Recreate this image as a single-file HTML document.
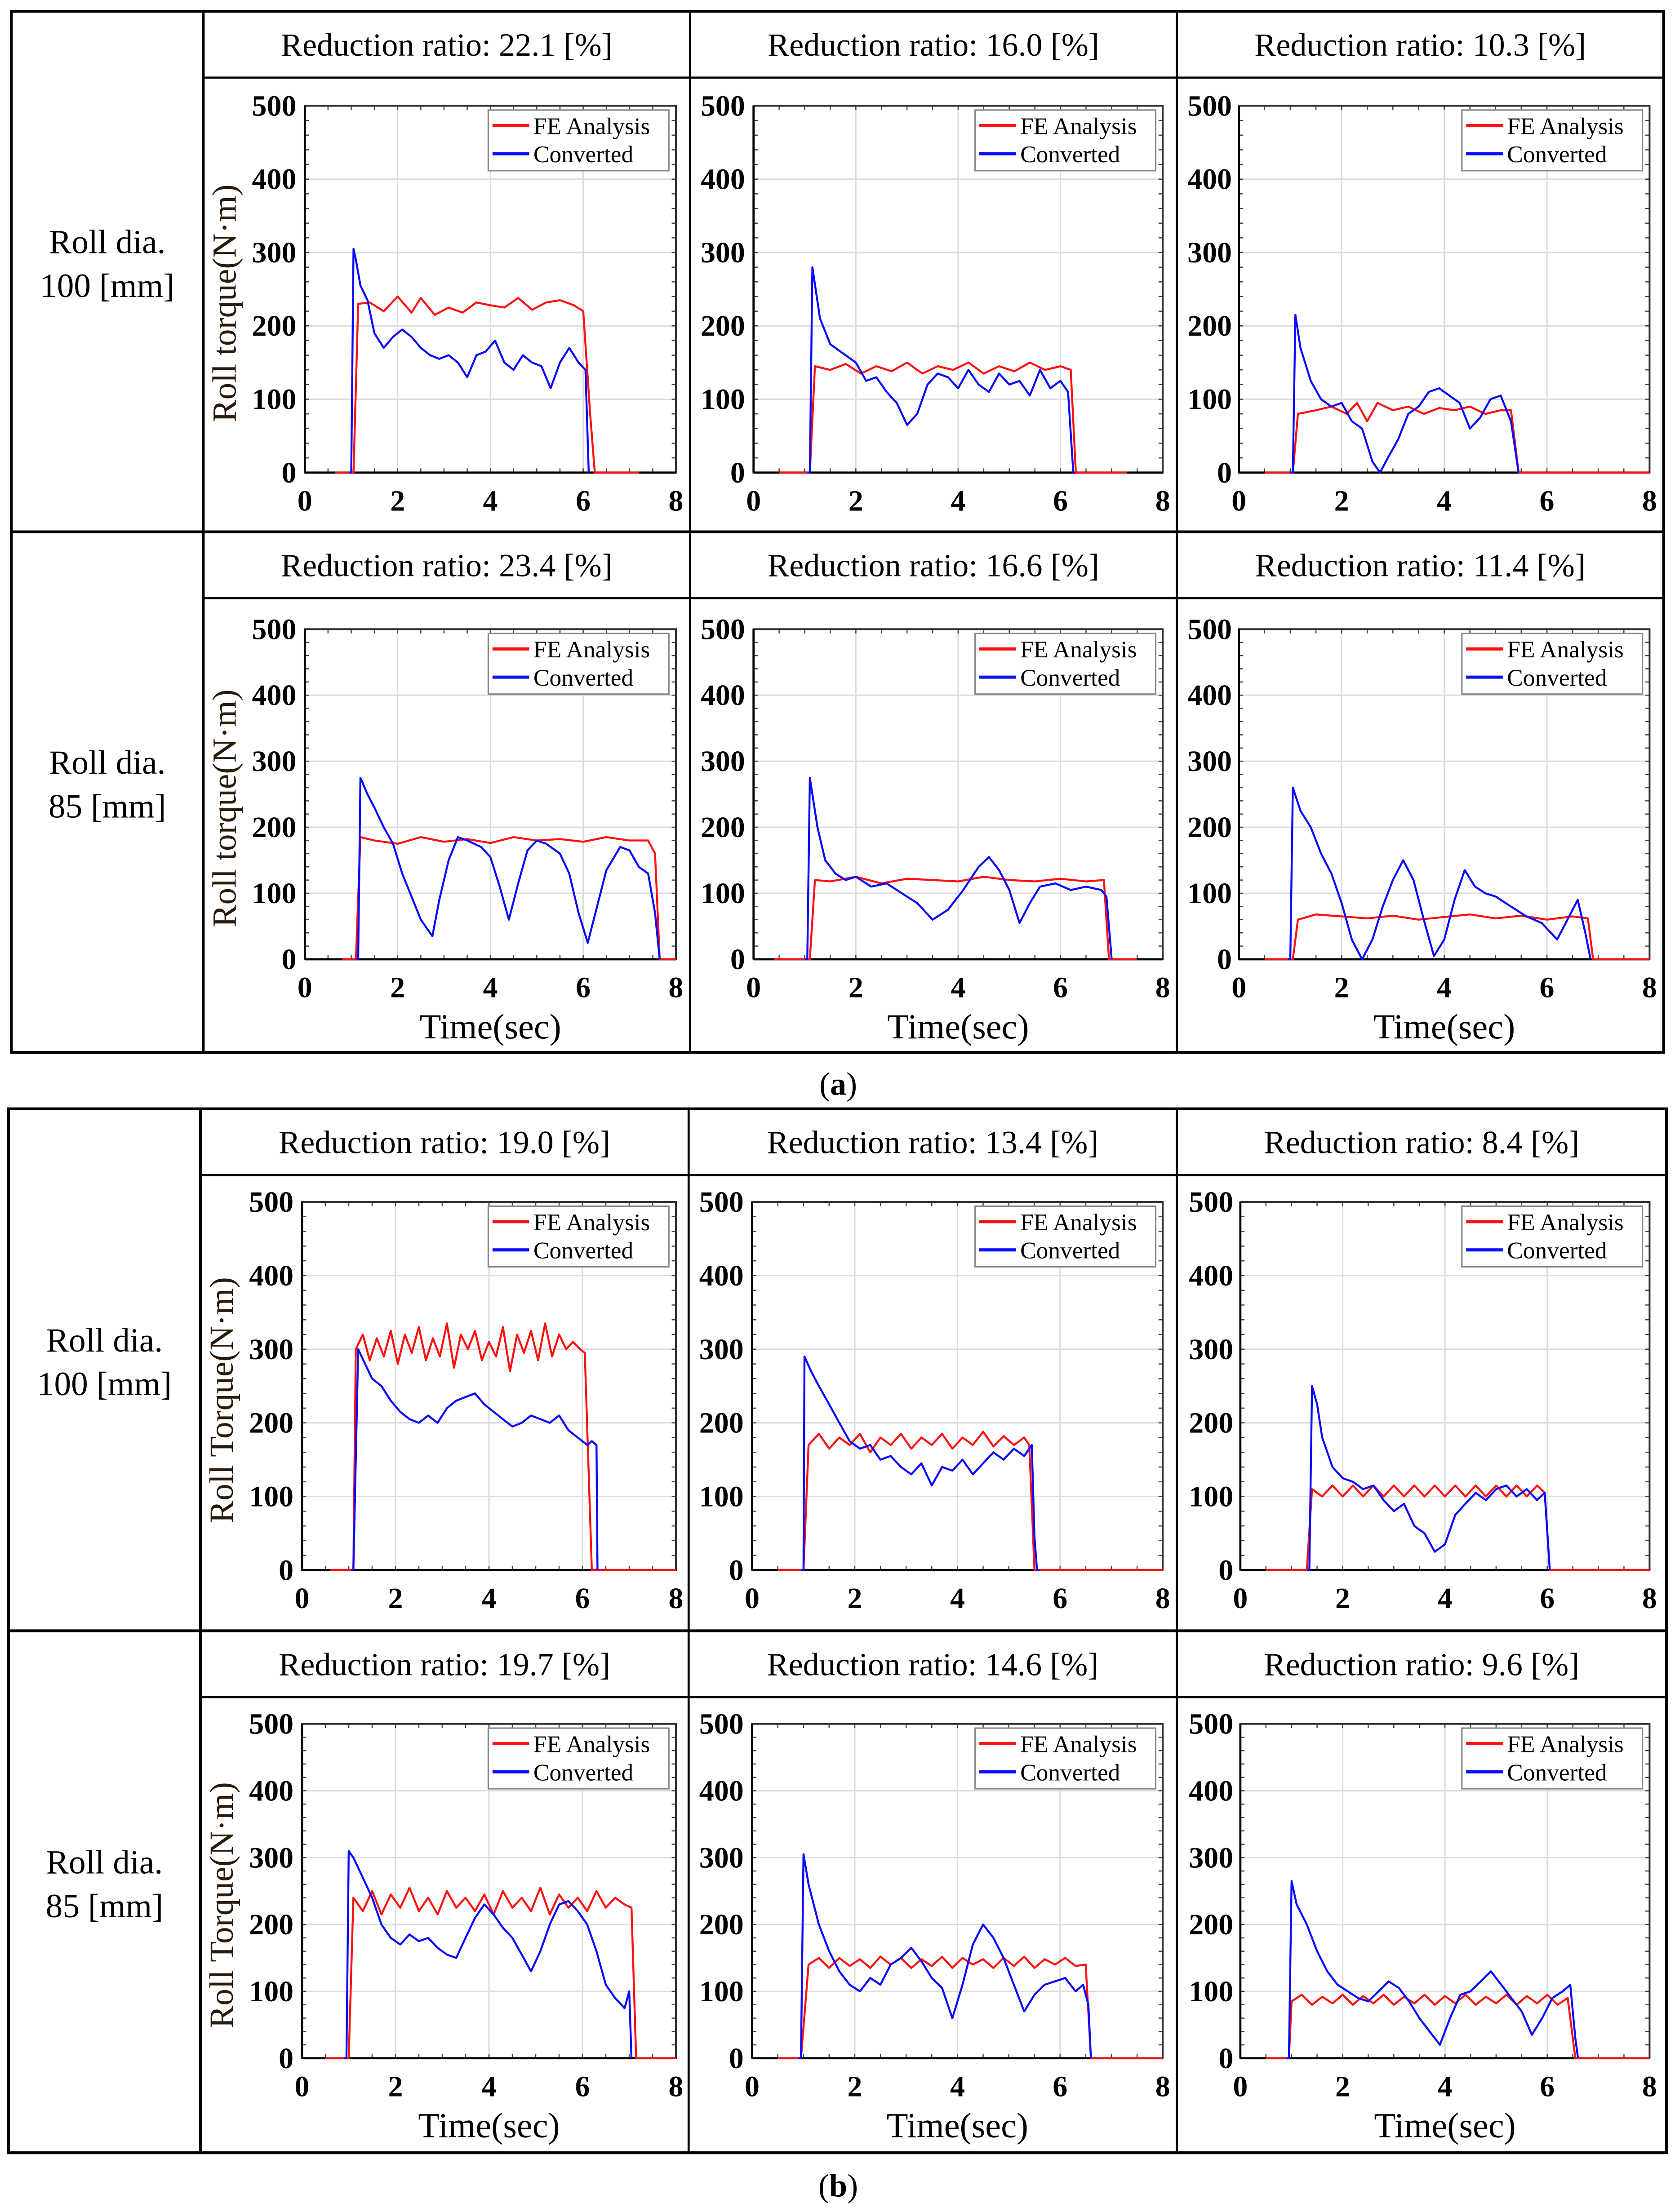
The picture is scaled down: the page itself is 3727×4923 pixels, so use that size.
<!DOCTYPE html>
<html><head><meta charset="utf-8"><style>
html,body{margin:0;padding:0;background:#fff}
svg{display:block;font-family:"Liberation Serif",serif}
text{font-family:"Liberation Serif",serif}
</style></head><body>
<svg id="fig" width="3727" height="4923" viewBox="0 0 1185 1568" font-family="Liberation Serif, serif" xmlns="http://www.w3.org/2000/svg"></svg>
<script>
// ---- data (time in s, torque in N·m) ----
const xTicks=[0,2,4,6,8];
const yTicks=[0,100,200,300,400,500];
const headers=["Reduction ratio: 22.1 [%]","Reduction ratio: 16.0 [%]","Reduction ratio: 10.3 [%]","Reduction ratio: 23.4 [%]","Reduction ratio: 16.6 [%]","Reduction ratio: 11.4 [%]","Reduction ratio: 19.0 [%]","Reduction ratio: 13.4 [%]","Reduction ratio: 8.4 [%]","Reduction ratio: 19.7 [%]","Reduction ratio: 14.6 [%]","Reduction ratio: 9.6 [%]"];
const rowLabels=[["Roll dia.","100 [mm]"],["Roll dia.","85 [mm]"],["Roll dia.","100 [mm]"],["Roll dia.","85 [mm]"]];

const a1FeT=[0.65,0.9,1.05,1.15,1.4,1.7,2,2.3,2.5,2.8,3.1,3.4,3.7,4,4.3,4.6,4.9,5.2,5.5,5.8,6.0,6.15,6.25,7.2];
const a1FeV=[0,0,0,230,232,220,240,218,238,215,225,218,232,228,225,238,222,232,235,228,220,80,0,0];
const a1CvT=[0.95,1.0,1.05,1.1,1.2,1.35,1.5,1.7,1.9,2.1,2.3,2.5,2.7,2.9,3.1,3.3,3.5,3.7,3.9,4.1,4.3,4.5,4.7,4.9,5.1,5.3,5.5,5.7,5.9,6.05,6.12];
const a1CvV=[0,0,305,290,255,235,190,170,185,195,185,170,160,155,160,150,130,160,165,180,150,140,160,150,145,115,150,170,150,140,0];

const a2FeT=[0.5,1.05,1.1,1.2,1.5,1.8,2.1,2.4,2.7,3,3.3,3.6,3.9,4.2,4.5,4.8,5.1,5.4,5.7,6,6.2,6.3,7.3];
const a2FeV=[0,0,0,145,140,148,135,145,138,150,135,145,140,150,135,145,138,150,140,145,140,0,0];
const a2CvT=[1.05,1.1,1.15,1.3,1.5,1.7,2,2.2,2.4,2.6,2.8,3,3.2,3.4,3.6,3.8,4,4.2,4.4,4.6,4.8,5,5.2,5.4,5.6,5.8,6,6.15,6.25];
const a2CvV=[0,0,280,210,175,165,150,125,130,110,95,65,80,120,135,130,115,140,120,110,135,120,125,105,140,115,125,110,0];

const a3FeT=[0.5,0.95,1.05,1.15,1.5,1.8,2.1,2.3,2.5,2.7,3,3.3,3.6,3.9,4.2,4.5,4.8,5.1,5.3,5.45,8];
const a3FeV=[0,0,0,80,85,90,80,95,70,95,85,90,80,88,85,90,80,85,85,0,0];
const a3CvT=[1.0,1.05,1.1,1.2,1.4,1.6,1.8,2,2.2,2.4,2.6,2.75,2.9,3.1,3.3,3.5,3.7,3.9,4.1,4.3,4.5,4.7,4.9,5.1,5.3,5.45];
const a3CvV=[0,0,215,170,125,100,90,95,70,60,15,0,20,45,80,90,110,115,105,95,60,75,100,105,70,0];

const a4FeT=[0.8,1.0,1.1,1.2,1.5,2,2.5,3,3.5,4,4.5,5,5.5,6,6.5,7,7.4,7.55,7.65,8];
const a4FeV=[0,0,0,185,180,175,185,178,182,176,185,180,182,178,185,180,180,160,0,0];
const a4CvT=[1.1,1.15,1.2,1.35,1.5,1.7,1.9,2.1,2.3,2.5,2.75,2.9,3.1,3.3,3.5,3.8,4.0,4.2,4.4,4.6,4.8,5.0,5.2,5.5,5.7,5.9,6.1,6.3,6.5,6.8,7.0,7.2,7.4,7.55,7.65];
const a4CvV=[0,0,275,250,230,200,175,130,95,60,35,90,150,185,180,170,155,110,60,115,165,180,175,160,130,70,25,80,135,170,165,140,130,70,0];

const a5FeT=[0.4,0.95,1.1,1.2,1.5,2,2.5,3,3.5,4,4.5,5,5.5,6,6.5,6.85,6.95,7.5];
const a5FeV=[0,0,0,120,118,125,115,122,120,118,125,120,118,122,118,120,0,0];
const a5CvT=[1.0,1.05,1.1,1.25,1.4,1.6,1.8,2,2.3,2.6,2.9,3.2,3.5,3.8,4.1,4.4,4.6,4.8,5.0,5.2,5.4,5.6,5.9,6.2,6.5,6.8,6.9,7.0];
const a5CvV=[0,0,275,200,150,130,120,125,110,115,100,85,60,75,105,140,155,135,105,55,85,110,115,105,110,105,95,0];

const a6FeT=[0.5,0.9,1.05,1.15,1.5,2,2.5,3,3.5,4,4.5,5,5.5,6,6.5,6.8,6.9,8];
const a6FeV=[0,0,0,60,68,65,62,66,60,64,68,62,66,60,65,62,0,0];
const a6CvT=[0.95,1.0,1.05,1.2,1.4,1.6,1.8,2,2.2,2.4,2.6,2.8,3.0,3.2,3.4,3.6,3.8,4.0,4.2,4.4,4.6,4.8,5.0,5.3,5.6,5.9,6.2,6.4,6.6,6.75,6.85];
const a6CvV=[0,0,260,225,200,160,130,85,30,0,30,80,120,150,120,60,5,30,90,135,110,100,95,80,65,55,30,60,90,40,0];

const b1FeT=[0.6,1.0,1.1,1.15,1.3,1.45,1.6,1.75,1.9,2.05,2.2,2.35,2.5,2.65,2.8,2.95,3.1,3.25,3.4,3.55,3.7,3.85,4.0,4.15,4.3,4.45,4.6,4.75,4.9,5.05,5.2,5.35,5.5,5.65,5.8,5.95,6.05,6.2,8];
const b1FeV=[0,0,0,300,320,285,315,290,325,280,320,295,330,285,315,290,335,275,320,300,325,285,310,290,330,270,320,295,325,285,335,290,320,300,310,300,295,0,0];
const b1CvT=[1.05,1.1,1.2,1.35,1.5,1.7,1.9,2.1,2.3,2.5,2.7,2.9,3.1,3.3,3.5,3.7,3.9,4.1,4.3,4.5,4.7,4.9,5.1,5.3,5.5,5.7,5.9,6.1,6.2,6.3,6.32];
const b1CvV=[0,0,300,280,260,250,230,215,205,200,210,200,220,230,235,240,225,215,205,195,200,210,205,200,210,190,180,170,175,170,0];

const b2FeT=[0.5,0.9,1.0,1.1,1.3,1.5,1.7,1.9,2.1,2.3,2.5,2.7,2.9,3.1,3.3,3.5,3.7,3.9,4.1,4.3,4.5,4.7,4.9,5.1,5.3,5.4,5.5,8];
const b2FeV=[0,0,0,170,185,165,180,170,185,160,180,170,185,165,180,170,185,165,180,170,188,168,182,170,180,170,0,0];
const b2CvT=[0.95,1.0,1.02,1.15,1.3,1.5,1.7,1.9,2.1,2.3,2.5,2.7,2.9,3.1,3.3,3.5,3.7,3.9,4.1,4.3,4.5,4.7,4.9,5.1,5.3,5.45,5.5,5.55,5.6];
const b2CvV=[0,0,290,270,250,225,200,175,165,170,150,155,140,130,145,115,140,135,150,130,145,160,150,165,155,170,45,0,0];

const b3FeT=[0.5,1.2,1.3,1.4,1.6,1.8,2,2.2,2.4,2.6,2.8,3,3.2,3.4,3.6,3.8,4,4.2,4.4,4.6,4.8,5,5.2,5.4,5.6,5.8,5.95,6.05,8];
const b3FeV=[0,0,0,110,100,115,100,115,100,115,100,115,100,115,100,115,100,115,100,115,100,115,100,115,100,115,105,0,0];
const b3CvT=[1.3,1.35,1.4,1.5,1.6,1.8,2,2.2,2.4,2.6,2.8,3,3.2,3.4,3.6,3.8,4,4.2,4.4,4.6,4.8,5,5.2,5.4,5.6,5.8,5.95,6.05];
const b3CvV=[0,0,250,225,180,140,125,120,110,115,95,80,90,60,50,25,35,75,90,105,95,110,115,100,110,95,105,0];

const b4FeT=[0.5,0.95,1.0,1.1,1.3,1.5,1.7,1.9,2.1,2.3,2.5,2.7,2.9,3.1,3.3,3.5,3.7,3.9,4.1,4.3,4.5,4.7,4.9,5.1,5.3,5.5,5.7,5.9,6.1,6.3,6.5,6.7,6.9,7.05,7.15,8];
const b4FeV=[0,0,0,240,220,250,215,245,225,255,220,240,215,250,225,240,220,245,215,250,225,240,220,255,215,245,225,240,220,250,225,240,230,225,0,0];
const b4CvT=[0.9,0.95,1.0,1.1,1.3,1.5,1.7,1.9,2.1,2.3,2.5,2.7,2.9,3.1,3.3,3.5,3.7,3.9,4.1,4.3,4.5,4.7,4.9,5.1,5.3,5.5,5.7,5.9,6.1,6.3,6.5,6.7,6.9,7.0,7.05];
const b4CvV=[0,0,310,300,270,240,200,180,170,185,175,180,165,155,150,180,210,230,215,195,180,155,130,160,200,230,235,220,200,160,110,90,75,100,0];

const b5FeT=[0.5,0.85,0.95,1.1,1.3,1.5,1.7,1.9,2.1,2.3,2.5,2.7,2.9,3.1,3.3,3.5,3.7,3.9,4.1,4.3,4.5,4.7,4.9,5.1,5.3,5.5,5.7,5.9,6.1,6.3,6.5,6.6,8];
const b5FeV=[0,0,0,140,150,135,150,138,148,135,152,140,150,135,148,138,152,135,150,140,148,135,150,138,152,135,148,140,150,138,140,0,0];
const b5CvT=[0.9,0.95,1.0,1.1,1.3,1.5,1.7,1.9,2.1,2.3,2.5,2.7,2.9,3.1,3.3,3.5,3.7,3.9,4.1,4.3,4.5,4.7,4.9,5.1,5.3,5.5,5.7,5.9,6.1,6.3,6.45,6.55,6.6];
const b5CvV=[0,0,305,260,200,160,130,110,100,120,110,140,150,165,145,120,105,60,110,170,200,180,150,110,70,95,110,115,120,100,110,80,0];

const b6FeT=[0.5,0.9,0.95,1.0,1.2,1.4,1.6,1.8,2.0,2.2,2.4,2.6,2.8,3.0,3.2,3.4,3.6,3.8,4.0,4.2,4.4,4.6,4.8,5.0,5.2,5.4,5.6,5.8,6.0,6.2,6.4,6.55,8];
const b6FeV=[0,0,0,85,95,80,92,82,95,80,93,82,95,80,92,82,95,80,93,82,95,80,92,82,95,80,93,82,95,80,90,0,0];
const b6CvT=[0.9,0.95,1.0,1.1,1.3,1.5,1.7,1.9,2.1,2.3,2.5,2.7,2.9,3.1,3.3,3.5,3.7,3.9,4.1,4.3,4.5,4.7,4.9,5.1,5.3,5.5,5.7,5.9,6.1,6.3,6.45,6.55,6.6];
const b6CvV=[0,0,265,230,200,160,130,110,100,90,85,100,115,105,85,60,40,20,60,95,100,115,130,110,90,70,35,60,90,100,110,30,0];

const feTimes=[a1FeT,a2FeT,a3FeT,a4FeT,a5FeT,a6FeT,b1FeT,b2FeT,b3FeT,b4FeT,b5FeT,b6FeT];
const feVals=[a1FeV,a2FeV,a3FeV,a4FeV,a5FeV,a6FeV,b1FeV,b2FeV,b3FeV,b4FeV,b5FeV,b6FeV];
const cvTimes=[a1CvT,a2CvT,a3CvT,a4CvT,a5CvT,a6CvT,b1CvT,b2CvT,b3CvT,b4CvT,b5CvT,b6CvT];
const cvVals=[a1CvV,a2CvV,a3CvV,a4CvV,a5CvV,a6CvV,b1CvV,b2CvV,b3CvV,b4CvV,b5CvV,b6CvV];

// ---- layout ----
const NS="http://www.w3.org/2000/svg";
const svg=document.getElementById('fig');
function mk(tag,attrs,parent){const e=document.createElementNS(NS,tag);for(const k in attrs)e.setAttribute(k,attrs[k]);(parent||svg).appendChild(e);return e;}
function txt(s,attrs,parent){attrs['font-family']='Liberation Serif, serif';const e=mk('text',attrs,parent);e.textContent=s;return e;}

const tables=[
 {x0:7,x1:1178,y0:8,y1:746,cols:[143,488,833,1178],rows:[[8,55,377],[377,424,746]],
  px:[[215,478],[533,823],[877,1168]],py:[[75,335],[446,680]],tick:[355,700],timeY:727,ylab:[209,527,872],label:"a",labelY:768},
 {x0:5,x1:1180,y0:786,y1:1526,cols:[141,487,833,1180],rows:[[786,833,1156],[1156,1203,1526]],
  px:[[213,478],[532,823],[878,1168]],py:[[852,1113],[1222,1459]],tick:[1133,1479],timeY:1506,ylab:[207,526,873],label:"b",labelY:1549}
];
const yTitles=["Roll torque(N·m)","Roll Torque(N·m)"];

let pi=0;
tables.forEach((T,ti)=>{
  const g=mk('g',{});
  
  
  mk('rect',{x:T.x0,y:T.y0,width:T.x1-T.x0,height:T.y1-T.y0,fill:'none',stroke:'#000','stroke-width':2},g);
  mk('line',{x1:T.cols[0],y1:T.y0,x2:T.cols[0],y2:T.y1,stroke:'#000','stroke-width':2},g);
  mk('line',{x1:T.cols[1],y1:T.y0,x2:T.cols[1],y2:T.y1,stroke:'#000','stroke-width':1.5},g);
  mk('line',{x1:T.cols[2],y1:T.y0,x2:T.cols[2],y2:T.y1,stroke:'#000','stroke-width':1.5},g);
  mk('line',{x1:T.x0,y1:T.rows[0][2],x2:T.x1,y2:T.rows[0][2],stroke:'#000','stroke-width':2},g);
  T.rows.forEach((r,ri)=>{
    mk('line',{x1:T.cols[0],y1:r[1],x2:T.x1,y2:r[1],stroke:'#000','stroke-width':1.5},g);
    const rl=rowLabels[ti*2+ri];
    const cy=(r[0]+r[2])/2;
    const t1=txt(rl[0],{x:(T.x0+T.cols[0])/2,y:cy-13,'font-size':24,'text-anchor':'middle'},g);
    
    
    const t2=txt(rl[1],{x:(T.x0+T.cols[0])/2,y:cy+18,'font-size':24,'text-anchor':'middle'},g);
    
    
    for(let c=0;c<3;c++){
      const idx=pi++;
      const pg=mk('g',{},g);
      
      
      const h=txt(headers[idx],{x:(T.cols[c]+T.cols[c+1])/2,y:(r[0]+r[1])/2+8,'font-size':23,'text-anchor':'middle'},pg);
      
      
      const [X0,X1]=T.px[c];const [Ytop,Ybot]=T.py[ri];
      const sx=v=>X0+(v/8)*(X1-X0);
      const sy=v=>Ybot-(v/500)*(Ybot-Ytop);
      xTicks.forEach(t=>{if(t>0&&t<8)mk('line',{x1:sx(t),y1:Ytop,x2:sx(t),y2:Ybot,stroke:'#dcdcdc','stroke-width':1},pg);});
      yTicks.forEach(t=>{if(t>0&&t<500)mk('line',{x1:X0,y1:sy(t),x2:X1,y2:sy(t),stroke:'#dcdcdc','stroke-width':1},pg);});
      for(let m=0;m<=16;m++){const x=sx(m*0.5);mk('line',{x1:x,y1:Ytop,x2:x,y2:Ytop+3,stroke:'#444','stroke-width':0.8},pg);mk('line',{x1:x,y1:Ybot,x2:x,y2:Ybot-3,stroke:'#444','stroke-width':0.8},pg);}
      for(let m=0;m<=25;m++){const y=sy(m*20);mk('line',{x1:X0,y1:y,x2:X0+3,y2:y,stroke:'#444','stroke-width':0.8},pg);mk('line',{x1:X1,y1:y,x2:X1-3,y2:y,stroke:'#444','stroke-width':0.8},pg);}
      mk('rect',{x:X0,y:Ytop,width:X1-X0,height:Ybot-Ytop,fill:'none',stroke:'#333','stroke-width':1.3},pg);
      mk('line',{x1:X0,y1:Ybot,x2:X1,y2:Ybot,stroke:'#000','stroke-width':1.5},pg);
      mk('line',{x1:X0,y1:Ytop,x2:X0,y2:Ybot,stroke:'#000','stroke-width':1.5},pg);
      const mkPath=(ts,vs)=>ts.map((t,i)=>(i?'L':'M')+sx(t).toFixed(1)+','+sy(vs[i]).toFixed(1)).join('');
      const fe=mk('path',{d:mkPath(feTimes[idx],feVals[idx]),fill:'none',stroke:'#ff1010','stroke-width':1.4,'stroke-linejoin':'round'},pg);
      
      
      const cv=mk('path',{d:mkPath(cvTimes[idx],cvVals[idx]),fill:'none',stroke:'#0a0aff','stroke-width':1.4,'stroke-linejoin':'round'},pg);
      
      
      xTicks.forEach(t=>{const e=txt(String(t),{x:sx(t),y:T.tick[ri]+7,'font-size':21,'font-weight':'bold','text-anchor':'middle'},pg);
        
        });
      yTicks.forEach(t=>{const e=txt(String(t),{x:T.ylab[c],y:sy(t)+7,'font-size':21,'font-weight':'bold','text-anchor':'end'},pg);
        
        });
      const lx=X1-133,ly=Ytop+3;
      const lg=mk('g',{},pg);
      
      
      mk('rect',{x:lx,y:ly,width:128,height:43,fill:'#fff',stroke:'#888','stroke-width':1},lg);
      mk('line',{x1:lx+3,y1:ly+11,x2:lx+29,y2:ly+11,stroke:'#ff1010','stroke-width':2.2},lg);
      mk('line',{x1:lx+3,y1:ly+31,x2:lx+29,y2:ly+31,stroke:'#0a0aff','stroke-width':2.2},lg);
      const l1=txt('FE Analysis',{x:lx+32,y:ly+17,'font-size':17},lg);
      
      
      const l2=txt('Converted',{x:lx+32,y:ly+37,'font-size':17},lg);
      
      
      if(c===0){
        const yt=txt(yTitles[ti],{x:0,y:0,'font-size':24,fill:'#2a1a08','text-anchor':'middle',transform:`translate(${X0-49},${(Ytop+Ybot)/2+10}) rotate(-90)`},pg);
        
        
      }
      if(ri===1){
        const xt=txt('Time(sec)',{x:(X0+X1)/2,y:T.timeY+9,'font-size':25,'text-anchor':'middle'},pg);
        
        
      }
    }
  });
  const lab=mk('text',{x:593,y:T.labelY+8,'font-size':23,'text-anchor':'middle','font-family':'Liberation Serif, serif'});
  lab.innerHTML='(<tspan font-weight="bold">'+T.label+'</tspan>)';
  
  
});
</script>
</body></html>
